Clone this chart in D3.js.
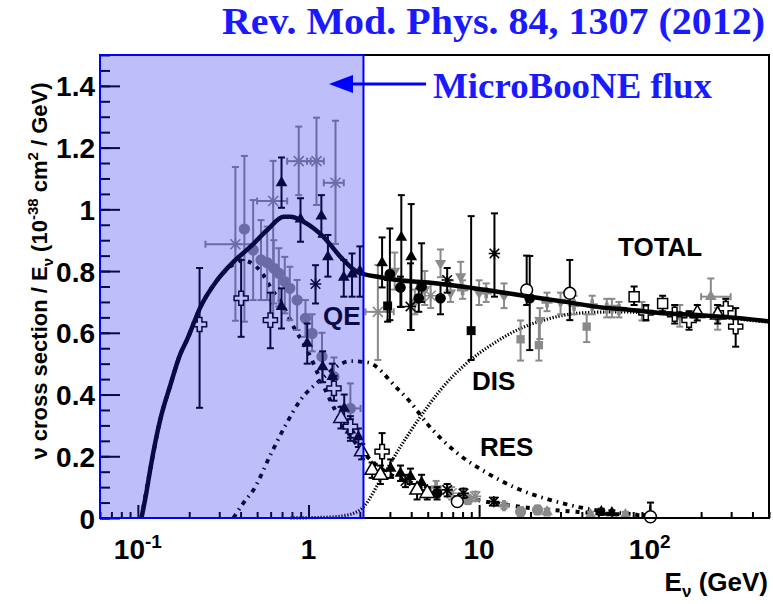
<!DOCTYPE html>
<meta charset="utf-8">
<script src="https://d3js.org/d3.v7.min.js"></script>
<style>
  body { margin: 0; background: #fff; }
  svg { display: block; font-family: "Liberation Sans", Arial, sans-serif; }
  .axis path { display: none; }
  .axis line { stroke: #000; stroke-width: 2px; }
  .axis text { font-size: 28px; font-weight: bold; fill: #000; font-family: "Liberation Sans", Arial, sans-serif; }
  .lbl { font-size: 26px; font-weight: bold; fill: #000; }
  .blue { font-family: "Liberation Serif", "DejaVu Serif", serif; font-weight: bold; fill: #1a1aff; }
</style>
<body></body>
<script>

// ---- theory curves, [E (GeV), sigma/E]
var totalCurve = [[0.105,0],[0.112,0.08],[0.118,0.155],[0.127,0.25],[0.135,0.317],[0.155,0.43],[0.177,0.53],
  [0.194,0.577],[0.233,0.684],[0.292,0.771],[0.363,0.83],[0.457,0.879],[0.573,0.933],[0.716,0.976],[0.784,0.976],
  [0.935,0.96],[1.224,0.911],[1.54,0.846],[1.93,0.798],[2.64,0.78],[3.31,0.771],[5.19,0.762],[8.11,0.749],
  [12.8,0.733],[20,0.717],[31.3,0.701],[49.3,0.684],[77.4,0.674],[121,0.663],[190,0.658],[298,0.65],[500,0.637]];

var qeCurve = [[0.105,0],[0.118,0.155],[0.135,0.317],[0.155,0.43],[0.177,0.53],[0.194,0.577],[0.233,0.684],
  [0.292,0.771],[0.363,0.822],[0.41,0.835],[0.457,0.828],[0.523,0.8],[0.612,0.739],[0.714,0.685],[0.817,0.62],
  [0.983,0.544],[1.18,0.447],[1.54,0.317],[2.21,0.199],[2.89,0.147],[4.13,0.112],[6.79,0.078],[13.3,0.045],
  [33,0.022],[100,0.008]];

var resCurve = [[0.363,0],[0.416,0.049],[0.476,0.091],[0.598,0.204],[0.733,0.3],[0.898,0.382],[1.176,0.447],
  [1.763,0.508],[2.22,0.504],[3.31,0.42],[3.96,0.375],[4.97,0.305],[7.45,0.21],[11.2,0.145],[16.8,0.095],
  [26.3,0.058],[41.1,0.032],[70.5,0.015],[101,0.008]];

var disCurve = [[0.784,0],[1.35,0.003],[1.76,0.012],[2.11,0.037],[2.64,0.123],[3.46,0.231],[4.53,0.328],
  [5.94,0.415],[8.52,0.503],[12.2,0.566],[16.7,0.609],[23.9,0.641],[39.3,0.664],[67.4,0.668],[116,0.662],
  [199,0.655],[500,0.634]];

// ---- data: [E, value, low, high, (Elow, Ehigh)]
var starGrey = [[0.373,0.887,0.639,1.137,0.249,0.476],[0.621,1.027,0.641,1.157,0.50,0.75],
  [0.877,1.156,1.046,1.268,0.75,1.03],[1.114,1.156,1.014,1.297,0.98,1.23],[1.44,1.086,0.888,1.287,1.23,1.61],
  [2.55,0.668,0.512,0.82,2.16,3.16],[6.9,0.08,0.06,0.10],[9.5,0.07,0.055,0.085],[5.2,0.72,0.68,0.76]];

var triBlack = [[0.695,1.086,1.005,1.168],[0.898,0.968,0.895,1.036],[1.19,0.978,0.911,1.046],
  [1.30,0.846,0.782,0.917],[1.61,0.78,0.717,0.836],[1.80,0.79,0.717,0.857],[2.0,0.80,0.717,0.88],
  [2.70,0.827,0.747,0.909],[3.50,0.909,0.684,1.046],[4.0,0.846,0.609,1.017],
  [0.695,0.685,0.614,0.744],[0.983,0.566,0.50,0.63],[1.21,0.49,0.44,0.54],[1.38,0.458,0.42,0.50],
  [1.62,0.355,0.297,0.40],[1.76,0.285,0.25,0.32],[1.96,0.263,0.23,0.29],[3.03,0.161,0.13,0.19],
  [3.96,0.134,0.11,0.16],[3.46,0.145,0.12,0.17],[4.6,0.115,0.09,0.14],[52,0.02,0.01,0.03],[60,0.017,0.01,0.025]];

var circGrey = [[0.421,0.936,0.636,1.173],[0.474,0.868,0.706,1.03],[0.527,0.836,0.706,0.965],
  [0.573,0.827,0.706,0.944],[0.626,0.809,0.695,0.90],[0.67,0.793,0.685,0.874],[0.726,0.766,0.663,0.846],
  [0.777,0.744,0.641,0.814],[0.858,0.706,0.609,0.771],[0.96,0.647,0.587,0.706],[1.05,0.598,0.54,0.66],
  [1.2,0.523,0.44,0.60],[1.41,0.458,0.40,0.52],[1.76,0.355,0.285,0.436,1.54,2.02],
  [17.5,0.02,0.005,0.035],[22,0.026,0.012,0.04],[8.6,0.06,0.045,0.075]];

var crossOpen = [[0.23,0.627,0.357,0.81],[0.403,0.712,0.587,0.836],[0.598,0.641,0.55,0.73],
  [1.41,0.42,0.38,0.46],[1.76,0.296,0.26,0.33],[2.70,0.215,0.155,0.275],
  [170,0.641,0.61,0.67],[279,0.679,0.65,0.71],[319,0.62,0.555,0.68],[140,0.66,0.63,0.69],[95,0.665,0.64,0.69]];

var circBlack = [[3.0,0.79,0.641,0.938],[3.46,0.747,0.684,0.782],[4.43,0.712,0.668,0.744],
  [5.94,0.712,0.66,0.76],[19.8,0.712,0.544,0.849],[5.67,0.08,0.06,0.10],[4.6,0.75,0.70,0.89]];

var sqBlack = [[2.91,0.687,0.636,0.771],[8.98,0.607,0.512,0.978]];

var starBlack = [[12.3,0.857,0.717,0.987],[3.96,0.685,0.609,0.825],[6.5,0.771,0.73,0.81],
  [1.10,0.758,0.695,0.819],[6.5,0.091,0.07,0.11],[8.1,0.08,0.065,0.095],[12.2,0.053,0.04,0.066],
  [3.7,0.12,0.10,0.14]];

var triDownGrey = [[3.2,0.80,0.74,0.86],[4.8,0.74,0.69,0.80],[5.94,0.825,0.78,0.87],[7.8,0.782,0.74,0.83],
  [10,0.73,0.69,0.77],[14,0.72,0.68,0.76],[22.7,0.641,0.58,0.68],[30,0.70,0.66,0.73],[60,0.68,0.65,0.71],
  [90,0.67,0.64,0.70],[150,0.655,0.62,0.69],[250,0.645,0.61,0.68],[4.2,0.70,0.66,0.74],[6.8,0.73,0.70,0.77]];

var sqGrey = [[17.5,0.579,0.51,0.64],[22.4,0.56,0.51,0.64],[42.7,0.62,0.57,0.66]];

var circOpen = [[19.0,0.739,0.69,0.85],[34,0.728,0.641,0.836],[7.45,0.053,0.04,0.07],[101,0.004,0,0.05]];

var triOpen = [[1.55,0.323,0.29,0.36],[2.05,0.215,0.19,0.24],[2.36,0.155,0.13,0.18],[2.64,0.139,0.11,0.17],
  [4.33,0.091,0.06,0.11],[4.97,0.08,0.06,0.10],[190,0.663,0.64,0.69],[250,0.658,0.63,0.69]];

var sqOpen = [[81,0.717,0.69,0.75],[119,0.695,0.67,0.72]];

var triGrey = [[228,0.717,0.652,0.776,200,298],[25,0.02,0.008,0.03],[45,0.01,0.004,0.02],[72,0.01,0.004,0.02]];

var crossGrey = [[25,0.70,0.67,0.73],[36,0.69,0.66,0.72],[46,0.69,0.66,0.72],[56,0.68,0.65,0.71],
  [66,0.675,0.65,0.70],[8,0.74,0.71,0.77],[11,0.73,0.70,0.76],[5.6,0.10,0.08,0.12],[14,0.04,0.03,0.05]];

var xMajor = [0.1, 1, 10, 100];
var xTickText = [["10", "-1"], ["1", ""], ["10", ""], ["10", "2"]];
var yMajor = [0, 0.2, 0.4, 0.6, 0.8, 1, 1.2, 1.4];
var yTickText = ["0", "0.2", "0.4", "0.6", "0.8", "1", "1.2", "1.4"];
var fluxRange = [0.06, 2.1];

// ---- layout
var margin = {top: 55, right: 4, bottom: 86, left: 100};
var width = 773 - margin.left - margin.right,
    height = 604 - margin.top - margin.bottom;

var svg = d3.select("body").append("svg")
    .attr("width", 773)
    .attr("height", 604);

var plot = svg.append("g")
    .attr("transform", "translate(" + margin.left + "," + margin.top + ")");

var x = d3.scaleLog().domain([0.06, 500]).range([0, width]);
var y = d3.scaleLinear().domain([0, 1.5]).range([height, 0]);

// minor ticks
var minorX = x.ticks().filter(function(v) { return xMajor.indexOf(v) < 0; });

plot.append("g").attr("class", "axis")
  .attr("transform", "translate(0," + height + ")")
  .call(d3.axisBottom(x).tickValues(minorX).tickSize(-6).tickFormat(""));
plot.append("g").attr("class", "axis")
  .attr("transform", "translate(0," + height + ")")
  .call(d3.axisBottom(x).tickValues(xMajor).tickSize(-13).tickFormat(""));

plot.append("g").attr("class", "axis")
  .call(d3.axisLeft(y).tickValues(d3.range(0, 1.51, 0.05)).tickSize(-10).tickFormat(""));
plot.append("g").attr("class", "axis")
  .call(d3.axisLeft(y).tickValues(yMajor).tickSize(-20).tickPadding(5)
    .tickFormat(function(d, i) { return yTickText[i]; }))
  .selectAll("text").attr("dy", "0.36em");

// x tick labels with superscripts
var xl = plot.append("g").selectAll("text").data(xMajor).enter().append("text")
  .attr("x", function(d) { return x(d); })
  .attr("y", height + 41)
  .attr("text-anchor", "middle")
  .style("font-size", "28px").style("font-weight", "bold");
xl.append("tspan").text(function(d, i) { return xTickText[i][0]; });
xl.append("tspan").attr("dy", -11).style("font-size", "19px")
  .text(function(d, i) { return xTickText[i][1]; });

// curves
var line = d3.line()
  .x(function(d) { return x(d[0]); })
  .y(function(d) { return y(d[1]); })
  .curve(d3.curveMonotoneX);

plot.append("path").datum(disCurve).attr("d", line)
  .attr("fill", "none").attr("stroke", "#000").attr("stroke-width", 3.2).attr("stroke-dasharray", "1.3,1.7");
plot.append("path").datum(resCurve).attr("d", line)
  .attr("fill", "none").attr("stroke", "#000").attr("stroke-width", 3.8).attr("stroke-dasharray", "4.5,5,1.5,5");
plot.append("path").datum(qeCurve).attr("d", line)
  .attr("fill", "none").attr("stroke", "#000").attr("stroke-width", 4).attr("stroke-dasharray", "4,6");

// data
var asterisk = {
  draw: function(ctx, size) {
    var r = Math.sqrt(size) / 2;
    ctx.moveTo(-r, -r); ctx.lineTo(r, r);
    ctx.moveTo(-r, r); ctx.lineTo(r, -r);
    ctx.moveTo(0, -r * 1.2); ctx.lineTo(0, r * 1.2);
    ctx.moveTo(-r * 1.2, 0); ctx.lineTo(r * 1.2, 0);
  }
};

function drawSeries(data, type, size, color, style, flip) {
  var g = plot.append("g");
  var pts = g.selectAll("g").data(data).enter().append("g")
    .attr("stroke", color).attr("stroke-width", 2);
  pts.append("line")
    .attr("x1", function(d) { return x(d[0]); }).attr("x2", function(d) { return x(d[0]); })
    .attr("y1", function(d) { return y(Math.max(0, d[2])); }).attr("y2", function(d) { return y(d[3]); });
  [2, 3].forEach(function(k) {
    pts.append("line")
      .attr("x1", function(d) { return x(d[0]) - 3.5; }).attr("x2", function(d) { return x(d[0]) + 3.5; })
      .attr("y1", function(d) { return y(Math.max(0, d[k])); }).attr("y2", function(d) { return y(Math.max(0, d[k])); });
  });
  var xe = pts.filter(function(d) { return d.length > 4; });
  xe.append("line")
    .attr("x1", function(d) { return x(d[4]); }).attr("x2", function(d) { return x(d[5]); })
    .attr("y1", function(d) { return y(d[1]); }).attr("y2", function(d) { return y(d[1]); });
  [4, 5].forEach(function(k) {
    xe.append("line")
      .attr("x1", function(d) { return x(d[k]); }).attr("x2", function(d) { return x(d[k]); })
      .attr("y1", function(d) { return y(d[1]) - 3.5; }).attr("y2", function(d) { return y(d[1]) + 3.5; });
  });
  var m = pts.append("path")
    .attr("transform", function(d) {
      return "translate(" + x(d[0]) + "," + y(d[1]) + ")" + (flip ? " rotate(180)" : "");
    })
    .attr("d", d3.symbol().type(type).size(size));
  if (style === "open") m.attr("fill", "#fff").attr("stroke-width", 1.5);
  else if (style === "star") m.attr("fill", "none").attr("stroke-width", 1.6);
  else m.attr("fill", color).attr("stroke", "none");
}

drawSeries(starGrey, asterisk, 100, "#8a8a8a", "star");
drawSeries(circGrey, d3.symbolCircle, 100, "#8a8a8a", "fill");
drawSeries(triDownGrey, d3.symbolTriangle, 55, "#8a8a8a", "fill", true);
drawSeries(sqGrey, d3.symbolSquare, 70, "#8a8a8a", "fill");
drawSeries(triGrey, d3.symbolTriangle, 60, "#8a8a8a", "fill");
drawSeries(crossGrey, d3.symbolCross, 70, "#8a8a8a", "fill");
drawSeries(triBlack, d3.symbolTriangle, 60, "#000", "fill");
drawSeries(circBlack, d3.symbolCircle, 90, "#000", "fill");
drawSeries(sqBlack, d3.symbolSquare, 80, "#000", "fill");
drawSeries(starBlack, asterisk, 90, "#000", "star");
drawSeries(crossOpen, d3.symbolCross, 110, "#000", "open");
drawSeries(circOpen, d3.symbolCircle, 110, "#000", "open");
drawSeries(triOpen, d3.symbolTriangle, 90, "#000", "open");
drawSeries(sqOpen, d3.symbolSquare, 100, "#000", "open");

// total curve on top
plot.append("path").datum(totalCurve).attr("d", line)
  .attr("fill", "none").attr("stroke", "#000").attr("stroke-width", 4.5);

// curve labels
plot.append("text").attr("class", "lbl").attr("x", 518).attr("y", 201).text("TOTAL");
plot.append("text").attr("class", "lbl").attr("x", 223).attr("y", 270).text("QE");
plot.append("text").attr("class", "lbl").attr("x", 372).attr("y", 335).text("DIS");
plot.append("text").attr("class", "lbl").attr("x", 380).attr("y", 401).text("RES");

// frame
plot.append("rect").attr("width", width).attr("height", height)
  .attr("fill", "none").attr("stroke", "#000").attr("stroke-width", 2);

// MicroBooNE flux band
plot.append("rect")
  .attr("x", x(fluxRange[0])).attr("y", 0)
  .attr("width", x(fluxRange[1]) - x(fluxRange[0])).attr("height", height)
  .attr("fill", "#2020f0").attr("fill-opacity", 0.29)
  .attr("stroke", "#0000ff").attr("stroke-width", 2);

// axis titles
var yt = svg.append("text")
  .attr("transform", "translate(47," + 271 + ") rotate(-90)")
  .attr("text-anchor", "middle")
  .style("font-size", "22px").style("font-weight", "bold");
yt.append("tspan").text("\u03bd cross section / E");
yt.append("tspan").attr("dy", 6).style("font-size", "15px").text("\u03bd");
yt.append("tspan").attr("dy", -6).text(" (10");
yt.append("tspan").attr("dy", -9).style("font-size", "15px").text("-38");
yt.append("tspan").attr("dy", 9).text(" cm");
yt.append("tspan").attr("dy", -9).style("font-size", "15px").text("2");
yt.append("tspan").attr("dy", 9).text(" / GeV)");

var xt = svg.append("text")
  .attr("x", 768).attr("y", 591)
  .attr("text-anchor", "end")
  .style("font-size", "26px").style("font-weight", "bold");
xt.append("tspan").text("E");
xt.append("tspan").attr("dy", 6).style("font-size", "17px").text("\u03bd");
xt.append("tspan").attr("dy", -6).text(" (GeV)");

// annotations
svg.append("text").attr("class", "blue")
  .attr("x", 222).attr("y", 34)
  .attr("textLength", 543).attr("lengthAdjust", "spacingAndGlyphs")
  .style("font-size", "37px")
  .text("Rev. Mod. Phys. 84, 1307 (2012)");

svg.append("text").attr("class", "blue")
  .attr("x", 433).attr("y", 98)
  .attr("textLength", 279).attr("lengthAdjust", "spacingAndGlyphs")
  .style("font-size", "35px")
  .text("MicroBooNE flux");

svg.append("line")
  .attr("x1", 350).attr("x2", 426).attr("y1", 84).attr("y2", 84)
  .attr("stroke", "#0000ff").attr("stroke-width", 3);
svg.append("path")
  .attr("d", "M329,84 L353,75 L353,93 Z")
  .attr("fill", "#0000ff");
</script>
